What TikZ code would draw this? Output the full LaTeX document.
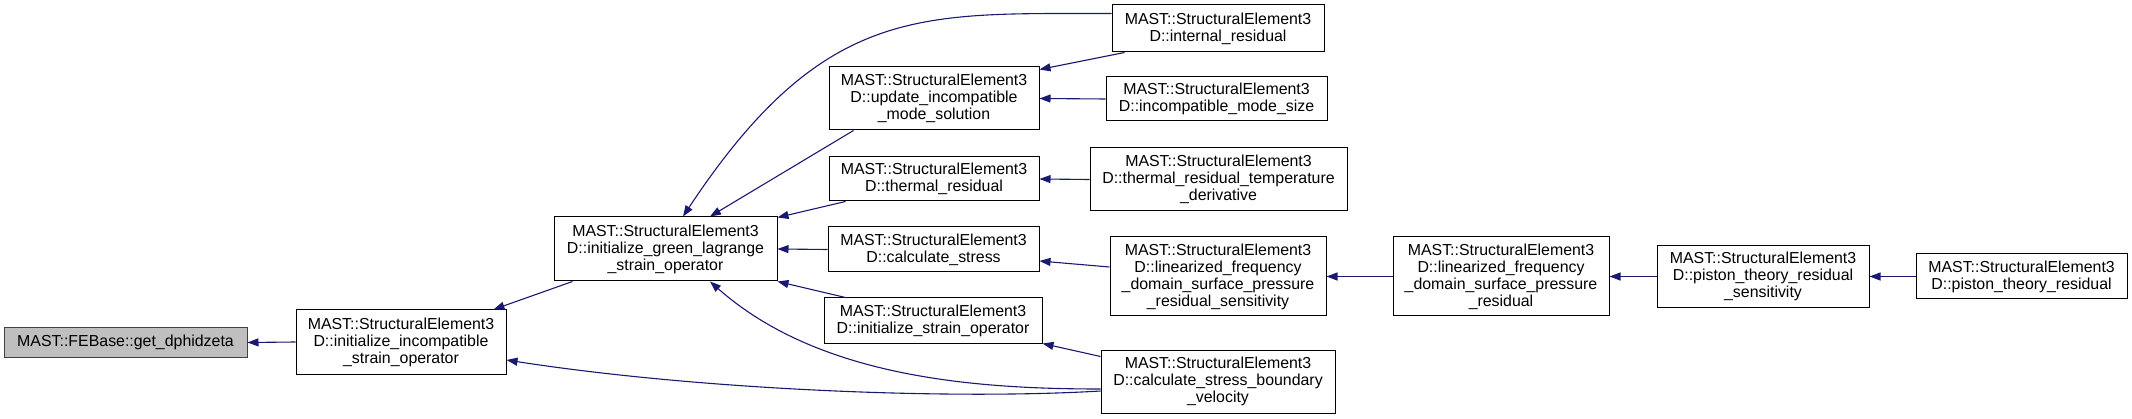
\documentclass[tikz,border=0pt]{standalone}
\usepackage{fontspec}
\setmainfont{Liberation Sans}
\usetikzlibrary{arrows.meta}
\definecolor{edgecol}{HTML}{191970}
\definecolor{rootfill}{HTML}{BFBFBF}
\begin{document}
\begin{tikzpicture}[x=1pt,y=1pt,
  fn/.style={draw=black, line width=1pt, fill=white, inner sep=0pt, align=center, font=\fontsize{15.9}{17}\selectfont},
  root/.style={fn, fill=rootfill, draw=black!75},
  edge/.style={draw=edgecol, line width=1.1pt, -{Triangle[length=11pt,width=8pt]}}]
\useasboundingbox (0,0) rectangle (2132,-419);
\node[root, minimum width=243pt, minimum height=29pt] (A) at (125.5,-342.5) {MAST::FEBase::get\_dphidzeta};
\node[fn, minimum width=210pt, minimum height=64pt] (B) at (401,-342) {MAST::StructuralElement3\\D::initialize\_incompatible\\\_strain\_operator};
\node[fn, minimum width=223pt, minimum height=64pt] (C) at (665.5,-249) {MAST::StructuralElement3\\D::initialize\_green\_lagrange\\\_strain\_operator};
\node[fn, minimum width=212pt, minimum height=47pt] (D) at (1218,-28.5) {MAST::StructuralElement3\\D::internal\_residual};
\node[fn, minimum width=210pt, minimum height=63pt] (E) at (934,-98.5) {MAST::StructuralElement3\\D::update\_incompatible\\\_mode\_solution};
\node[fn, minimum width=221pt, minimum height=44pt] (F) at (1216.5,-99) {MAST::StructuralElement3\\D::incompatible\_mode\_size};
\node[fn, minimum width=210pt, minimum height=44pt] (G) at (934,-179) {MAST::StructuralElement3\\D::thermal\_residual};
\node[fn, minimum width=257pt, minimum height=63pt] (H) at (1218.5,-179.5) {MAST::StructuralElement3\\D::thermal\_residual\_temperature\\\_derivative};
\node[fn, minimum width=211pt, minimum height=45pt] (I) at (933.5,-249.5) {MAST::StructuralElement3\\D::calculate\_stress};
\node[fn, minimum width=218pt, minimum height=45pt] (J) at (933,-320.5) {MAST::StructuralElement3\\D::initialize\_strain\_operator};
\node[fn, minimum width=234pt, minimum height=63pt] (K) at (1218,-381.5) {MAST::StructuralElement3\\D::calculate\_stress\_boundary\\\_velocity};
\node[fn, minimum width=216pt, minimum height=79pt] (L) at (1218,-276.5) {MAST::StructuralElement3\\D::linearized\_frequency\\\_domain\_surface\_pressure\\\_residual\_sensitivity};
\node[fn, minimum width=216pt, minimum height=79pt] (M) at (1501,-276.5) {MAST::StructuralElement3\\D::linearized\_frequency\\\_domain\_surface\_pressure\\\_residual};
\node[fn, minimum width=212pt, minimum height=62pt] (N) at (1763,-276.5) {MAST::StructuralElement3\\D::piston\_theory\_residual\\\_sensitivity};
\node[fn, minimum width=211pt, minimum height=45pt] (O) at (2021.5,-276.5) {MAST::StructuralElement3\\D::piston\_theory\_residual};
\draw[edge] (B.west) -- (A.east);
\draw[edge] ([xshift=19pt]C.south west) -- ([xshift=-13pt]B.north east);
\draw[edge] ([yshift=-9pt]D.north west) .. controls (923,-14) and (825,-2) .. ([xshift=17.5pt]C.north);
\draw[edge] ([xshift=25pt]E.south west) -- ([xshift=44.5pt]C.north);
\draw[edge] ([xshift=17pt]G.south west) -- ([yshift=-1pt]C.north east);
\draw[edge] (I.west) -- (C.east);
\draw[edge] ([xshift=22pt]J.north west) -- (C.south east);
\draw[edge] ([yshift=-7.5pt]K.west) .. controls (969,-389) and (817,-376) .. ([xshift=44.5pt]C.south);
\draw[edge] ([yshift=-9.5pt]K.west) .. controls (950,-400) and (700,-390) .. ([yshift=-18pt]B.east);
\draw[edge] ([yshift=-7pt]K.north west) -- (J.south east);
\draw[edge] ([xshift=13pt]D.south west) -- ([yshift=-3pt]E.north east);
\draw[edge] (F.west) -- (E.east);
\draw[edge] (H.west) -- (G.east);
\draw[edge] ([yshift=9.5pt]L.west) -- ([yshift=-11.5pt]I.east);
\draw[edge] (M.west) -- (L.east);
\draw[edge] (N.west) -- (M.east);
\draw[edge] (O.west) -- (N.east);
\end{tikzpicture}
\end{document}
